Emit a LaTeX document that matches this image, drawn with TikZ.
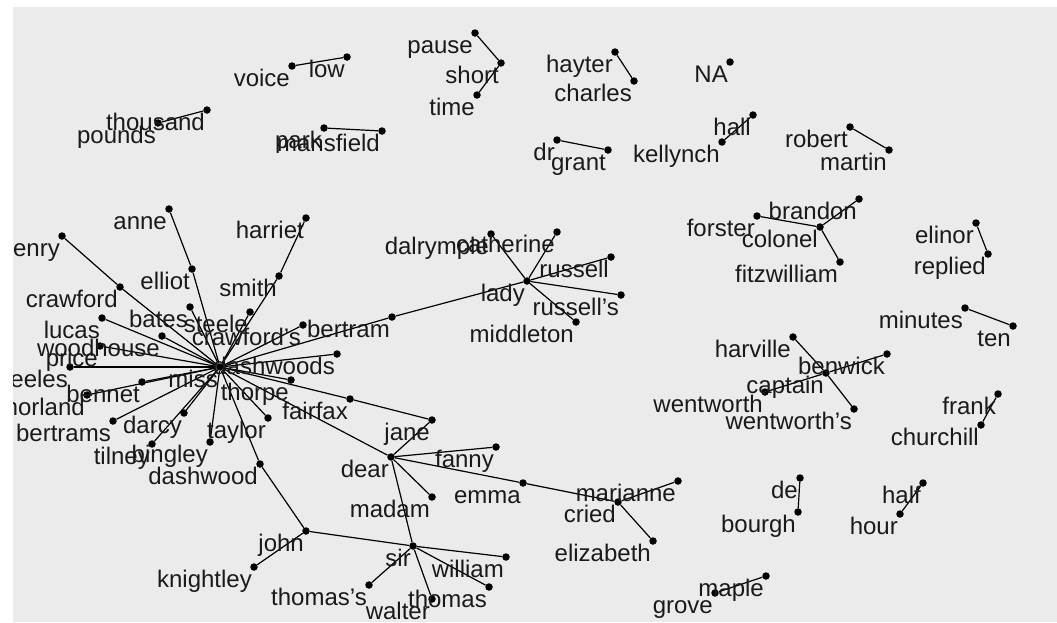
\documentclass[tikz,border=0pt]{standalone}
\usepackage{fontspec}
\setmainfont{Liberation Sans}
\definecolor{panel}{HTML}{EBEBEB}
\definecolor{ink}{HTML}{1A1A1A}
\begin{document}
\begin{tikzpicture}[x=1pt,y=-1pt,
  vtx/.style={circle,fill=black,inner sep=0pt,minimum size=7.5pt},
  edge/.style={draw=black,line width=1.2pt},
  lbl/.style={anchor=base east,inner sep=0pt,text=ink,font=\fontsize{24}{28}\selectfont}]
\useasboundingbox (0,0) rectangle (1057,622);
\fill[white] (0,0) rectangle (1057,622);
\fill[panel] (13,7) rectangle (1057,622);
\newcommand{\wlab}[2]{\node[lbl] at ([xshift=-2pt,yshift=-20pt]#1.center) {#2};}
\begin{scope}
\clip (13,7) rectangle (1057,622);
% ---------- vertices
\foreach \n/\x/\y in {
  voice/292/66, low/347/57, pause/475/33, short/501/63, time/477/95,
  thousand/207/110, pounds/158/123, park/324/128, mansfield/382/131,
  hayter/615/52, charles/634/81, NA/730/62, dr/557/140, grant/608/150,
  hall/753/115, kellynch/722/142, robert/850/127, martin/889/150,
  forster/757/216, colonel/820/227, brandon/859/199, fitzwilliam/840/262,
  elinor/976/223, replied/988/254, minutes/965/308, ten/1013/326,
  harville/793/337, benwick/887/354, captain/826/373, wentworth/765/392, wentworths/854/409,
  frank/998/394, churchill/981/425, de/800/478, bourgh/798/512,
  half/923/483, hour/900/514, maple/766/576, grove/715/593,
  marianne/678/481, cried/618/502, elizabeth/653/541,
  miss/220/367, elliot/192/269, anne/169/209, smith/279/276, harriet/306/218,
  crawford/120/287, henry/62/236, lucas/102/318, woodhouse/162/336, price/100/346,
  steeles/70/367, morland/87/395, bennet/142/382, bertrams/113/421, darcy/184/413,
  tilney/152/444, bingley/210/442, taylor/268/418, dashwood/260/464,
  john/306/531, knightley/254/567, thorpe/291/380, dashwoods/337/354,
  fairfax/350/399, jane/432/420, bates/190/307, steele/250/312, crawfords/303/325,
  bertram/392/317, lady/527/281, dalrymple/491/234, catherine/557/232,
  russell/611/257, russells/621/295, middleton/576/322,
  dear/391/457, fanny/496/447, emma/523/483, madam/432/497,
  sir/413/546, william/506/557, thomas/489/587, thomass/369/585, walter/432/599}
  {\node[vtx] (\n) at (\x,\y) {};}
% ---------- edges
\foreach \a/\b in {
  voice/low, pause/short, short/time, thousand/pounds, park/mansfield,
  hayter/charles, dr/grant, hall/kellynch, robert/martin,
  colonel/forster, colonel/brandon, colonel/fitzwilliam, elinor/replied, minutes/ten,
  captain/harville, captain/benwick, captain/wentworth, captain/wentworths,
  frank/churchill, de/bourgh, half/hour, maple/grove,
  cried/marianne, cried/elizabeth, cried/emma,
  dear/miss, dear/jane, dear/fanny, dear/emma, dear/madam, dear/sir,
  sir/john, sir/william, sir/thomas, sir/thomass, sir/walter,
  john/knightley, john/dashwood, miss/dashwood,
  miss/elliot, elliot/anne, miss/smith, smith/harriet, miss/crawford, crawford/henry,
  miss/lucas, miss/woodhouse, miss/price, miss/steeles, miss/morland, miss/bennet,
  miss/bertrams, miss/darcy, miss/tilney, miss/bingley, miss/taylor, miss/thorpe,
  miss/dashwoods, miss/fairfax, fairfax/jane, miss/bates, miss/steele, miss/crawfords,
  miss/bertram, bertram/lady,
  lady/dalrymple, lady/catherine, lady/russell, lady/russells, lady/middleton}
  {\draw[edge] (\a) -- (\b);}
% ---------- labels
\foreach \n in {voice, low, pause, short, time, thousand, pounds, park, mansfield,
  hayter, charles, NA, dr, grant, hall, kellynch, robert, martin,
  forster, colonel, brandon, fitzwilliam, elinor, replied, minutes, ten,
  harville, benwick, captain, wentworth, frank, churchill, de, bourgh,
  half, hour, maple, grove, marianne, cried, elizabeth,
  miss, elliot, anne, smith, harriet, crawford, henry, lucas, woodhouse, price,
  steeles, morland, bennet, bertrams, darcy, tilney, bingley, taylor, dashwood,
  john, knightley, thorpe, dashwoods, fairfax, jane, bates, steele,
  bertram, lady, dalrymple, catherine, russell, middleton,
  dear, fanny, emma, madam, sir, william, thomas, walter}
  {\wlab{\n}{\n}}
\wlab{wentworths}{wentworth's}
\wlab{crawfords}{crawford's}
\wlab{russells}{russell's}
\wlab{thomass}{thomas's}
\end{scope}
\end{tikzpicture}
\end{document}
